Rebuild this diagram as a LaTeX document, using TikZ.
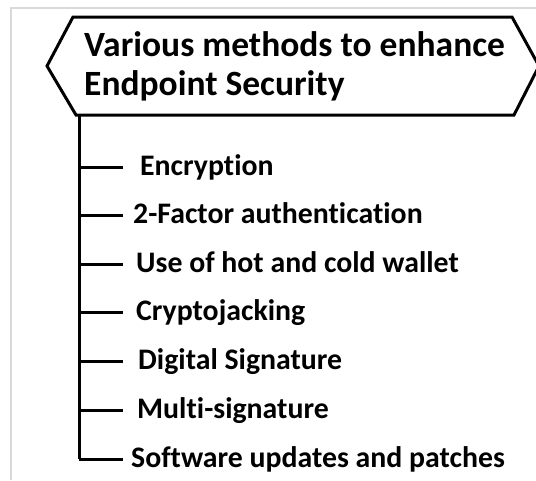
\documentclass[tikz,border=0pt]{standalone}
\usepackage{fontspec}
\setmainfont{Carlito}[Ligatures=NoCommon]
\begin{document}
\begin{tikzpicture}[x=1pt,y=-1pt,
  frame/.style={draw=black!15,line width=2pt},
  outline/.style={draw=black,line width=3pt,line join=miter},
  branch/.style={draw=black,line width=3pt},
  titletext/.style={anchor=base west,inner sep=0pt,font=\fontsize{35.5}{40}\selectfont\bfseries},
  itemtext/.style={anchor=base west,inner sep=0pt,font=\fontsize{29.8}{34}\selectfont\bfseries}]
  \useasboundingbox (0,0) rectangle (536,480);
  \fill[white] (0,0) rectangle (536,480);
  % light frame around the sheet
  \draw[frame] (11,480) -- (11,8) -- (536,8);
  % hexagonal heading
  \draw[outline] (73,17) -- (512,17) -- (539,66) -- (514,115) -- (76,115) -- (47,66) -- cycle;
  \node[titletext] (t1) at (84,56) {Various methods to enhance};
  \node[titletext] (t2) at (84,95) {Endpoint Security};
  % trunk and branches
  \coordinate (top) at (79,115);
  \coordinate (bot) at (79,459);
  \draw[branch] (top) -- (bot);
  \foreach \y/\x/\name/\txt in {
    167/140/i1/Encryption,
    215/133/i2/2-Factor authentication,
    264/136/i3/Use of hot and cold wallet,
    312/136/i4/Cryptojacking,
    361/138/i5/Digital Signature,
    410/137/i6/Multi-signature,
    459/131/i7/Software updates and patches}{
    \coordinate (b-\name) at (79,\y);
    \coordinate (e-\name) at (123,\y);
    \draw[branch] (b-\name) -- (e-\name);
    \node[itemtext] (\name) at (\x,\y+8) {\txt};
  }
\end{tikzpicture}
\end{document}
